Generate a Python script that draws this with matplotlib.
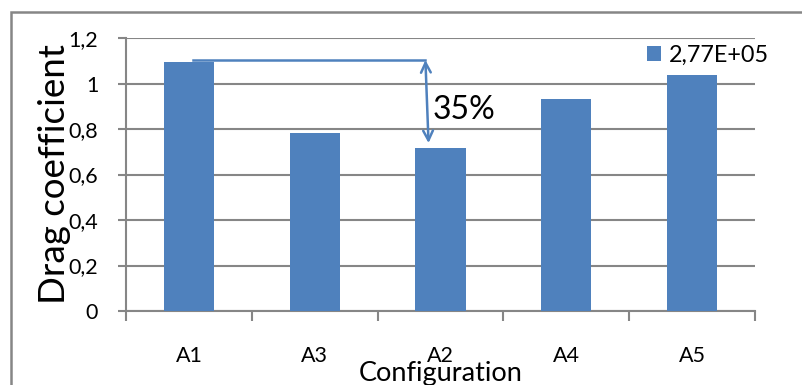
import matplotlib
matplotlib.use("Agg")
import matplotlib.pyplot as plt
from matplotlib.patches import Rectangle

plt.rcParams['font.family'] = ['Lato', 'DejaVu Sans']

configs = ["A1", "A3", "A2", "A4", "A5"]
drag = [1.096, 0.784, 0.715, 0.933, 1.036]
series_label = "2,77E+05"
y_ticks = [0, 0.2, 0.4, 0.6, 0.8, 1.0, 1.2]
y_tick_labels = ["0", "0,2", "0,4", "0,6", "0,8", "1", "1,2"]
reduction_label = "35%"

W, H = 802, 385
fig = plt.figure(figsize=(W / 100, H / 100), dpi=100)
ax = fig.add_axes([126 / W, 1 - 311 / H, (755 - 126) / W, (311 - 38) / H])

bar_color = "#4F81BD"
grid_color = "#868686"

x = list(range(len(configs)))
ax.bar(x, drag, width=0.4, color=bar_color, zorder=3, label=series_label)

ax.set_xlim(-0.5, len(configs) - 0.5)
ax.set_ylim(0, 1.2)
ax.set_yticks(y_ticks)
ax.set_yticklabels(y_tick_labels, fontsize=15.5)
ax.set_xticks(x)
ax.set_xticklabels(configs, fontsize=15.5)
ax.set_xticks([i - 0.5 for i in range(len(configs) + 1)], minor=True)

ax.yaxis.grid(True, color=grid_color, linewidth=1.5, zorder=0)
ax.tick_params(axis='y', which='major', length=6, width=1.5, color=grid_color, pad=14)
ax.tick_params(axis='x', which='major', length=0, pad=25)
ax.tick_params(axis='x', which='minor', length=7, width=1.5, color=grid_color)

for side in ("top", "right"):
    ax.spines[side].set_visible(False)
for side in ("left", "bottom"):
    ax.spines[side].set_color(grid_color)
    ax.spines[side].set_linewidth(1.5)

ax.set_xlabel("Configuration", fontsize=19.5, labelpad=-3.5)
ax.set_ylabel("Drag coefficient", fontsize=26.5, labelpad=-2)

# Reduction marker between A1 and A2
top_val = 1.103
low_val = 0.738
ax.plot([0.03, 1.88], [top_val, top_val], color=bar_color, linewidth=1.8, zorder=4)
ax.annotate("", xy=(1.905, low_val), xytext=(1.88, top_val),
            arrowprops=dict(arrowstyle="<->,head_length=0.7,head_width=0.35",
                            color=bar_color, linewidth=1.8,
                            shrinkA=0, shrinkB=0), zorder=4)
ax.text(1.94, 0.885, reduction_label, fontsize=23, va="center", ha="left", zorder=5)

ax.legend(loc="center left", bbox_to_anchor=(647 / W, 1 - 55 / H),
          bbox_transform=fig.transFigure, frameon=False, fontsize=16.8,
          handlelength=0.62, handleheight=0.62, handletextpad=0.3,
          borderpad=0, borderaxespad=0)

fig.patches.append(Rectangle((11 / W, -0.1), 1.2, 1.1 - 12 / H,
                             transform=fig.transFigure, fill=False,
                             edgecolor=grid_color, linewidth=1.8))

fig.savefig("out.png", dpi=100)
